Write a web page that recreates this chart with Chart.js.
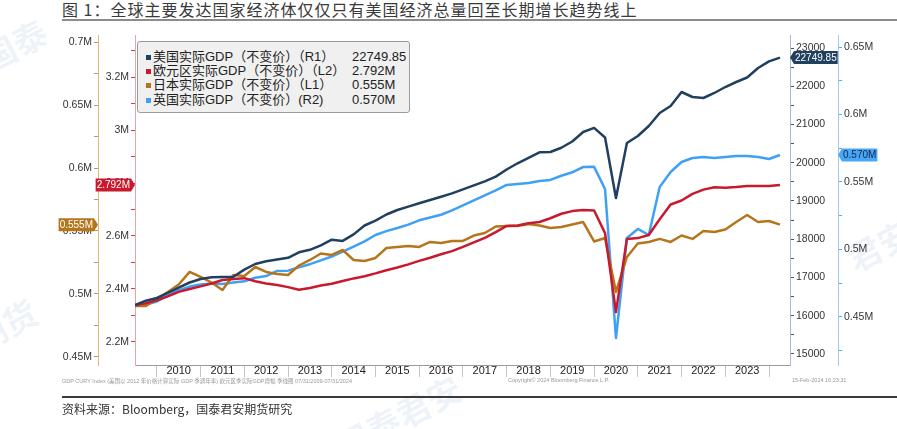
<!DOCTYPE html>
<html>
<head>
<meta charset="utf-8">
<script src="https://cdn.jsdelivr.net/npm/chart.js@4.4.1/dist/chart.umd.min.js"></script>
<style>
body { margin: 0; width: 897px; height: 429px; overflow: hidden; background: #fff; position: relative; font-family: "Noto Sans CJK SC", sans-serif; }
#title { position: absolute; left: 62px; top: -3px; font-size: 16px; letter-spacing: 1px; color: #3a3a3a; white-space: nowrap; }
#titleLine { position: absolute; left: 62px; right: 0; top: 19px; height: 2px; background: #8c8c8c; }
#c { position: absolute; left: 0; top: 0; }
#legend { position: absolute; left: 137px; top: 41px; width: 271px; height: 70px; background: #f0f0f0; border: 1px solid #9a9a9a; border-radius: 3px; font-family: "Liberation Sans", "Noto Sans CJK SC", sans-serif; font-size: 13px; color: #222; }
.row { position: absolute; left: 0; height: 14px; line-height: 14px; white-space: nowrap; }
.sw { position: absolute; left: 8px; top: 5px; width: 5px; height: 5px; }
.nm { position: absolute; left: 15px; top: 0; }
.vl { position: absolute; left: 214px; top: 0; }
.foot { position: absolute; top: 377px; font-size: 5.5px; color: #999; white-space: nowrap; font-family: "Liberation Sans", "Noto Sans CJK SC", sans-serif; }
#srcLine { position: absolute; left: 62px; right: 0; top: 396px; height: 1.5px; background: #3a3a3a; }
#source { position: absolute; left: 62px; top: 400px; font-size: 12px; color: #333; white-space: nowrap; }
.wm { position: absolute; color: rgba(120, 160, 210, 0.12); font-size: 34px; font-weight: bold; transform: rotate(-28deg); white-space: nowrap; }
</style>
</head>
<body>
<div class="wm" style="left:-20px;top:20px;">国泰</div>
<div class="wm" style="left:-30px;top:300px;">期货</div>
<div class="wm" style="left:330px;top:392px;">国泰君安</div>
<div class="wm" style="left:845px;top:220px;">君安</div>
<div id="title">图 1：全球主要发达国家经济体仅仅只有美国经济总量回至长期增长趋势线上</div>
<div id="titleLine"></div>
<canvas id="c" width="897" height="429"></canvas>
<div id="legend"></div>
<div class="foot" style="left:62px;">GDP CURY Index (美国以 2012 年价格计算实际 GDP 季调年率) 欧元区季实际GDP增幅 季线图 07/31/2009-07/31/2024</div>
<div class="foot" style="left:508px;">Copyright© 2024 Bloomberg Finance L.P.</div>
<div class="foot" style="left:792px;">15-Feb-2024 16:23:31</div>
<div id="srcLine"></div>
<div id="source">资料来源：Bloomberg，国泰君安期货研究</div>
<script>
// quarter-end observations
const quarters = [
  '2009Q2','2009Q3','2009Q4',
  '2010Q1','2010Q2','2010Q3','2010Q4',
  '2011Q1','2011Q2','2011Q3','2011Q4',
  '2012Q1','2012Q2','2012Q3','2012Q4',
  '2013Q1','2013Q2','2013Q3','2013Q4',
  '2014Q1','2014Q2','2014Q3','2014Q4',
  '2015Q1','2015Q2','2015Q3','2015Q4',
  '2016Q1','2016Q2','2016Q3','2016Q4',
  '2017Q1','2017Q2','2017Q3','2017Q4',
  '2018Q1','2018Q2','2018Q3','2018Q4',
  '2019Q1','2019Q2','2019Q3','2019Q4',
  '2020Q1','2020Q2','2020Q3','2020Q4',
  '2021Q1','2021Q2','2021Q3','2021Q4',
  '2022Q1','2022Q2','2022Q3','2022Q4',
  '2023Q1','2023Q2','2023Q3','2023Q4',
  '2024Q1'
];
const yearLabels = ['2010','2011','2012','2013','2014','2015','2016','2017','2018','2019','2020','2021','2022','2023'];

// US real GDP (R1), level
const usGdp = [16281,16393,16464,16595,16736,16869,16961,17008,17013,17020,
  17206,17353,17423,17471,17515,17659,17724,17842,17988,17957,
  18127,18359,18488,18647,18765,18854,18940,19026,19110,19199,
  19303,19408,19515,19638,19823,19986,20129,20273,20281,20393,
  20556,20804,20911,20660,19078,20516,20699,20961,21301,21484,
  21850,21719,21693,21824,21980,22111,22229,22477,22652,22749.85];
// Euro area real GDP (L2), millions
const euroGdp = [2.340,2.346,2.357,2.372,2.389,2.400,2.410,2.421,2.434,2.438,
  2.441,2.429,2.421,2.415,2.407,2.397,2.404,2.413,2.420,2.430,
  2.440,2.448,2.459,2.471,2.481,2.493,2.506,2.518,2.531,2.543,
  2.559,2.576,2.593,2.615,2.638,2.640,2.648,2.653,2.667,2.684,
  2.694,2.698,2.696,2.611,2.313,2.589,2.592,2.604,2.663,2.719,
  2.734,2.759,2.775,2.784,2.782,2.785,2.789,2.789,2.789,2.792];
// Japan real GDP (L1), millions
const japanGdp = [0.4905,0.4905,0.4960,0.5016,0.5075,0.5175,0.5135,0.5091,0.5032,0.5151,
  0.5143,0.5214,0.5175,0.5159,0.5151,0.5226,0.5270,0.5321,0.5310,0.5349,
  0.5270,0.5262,0.5286,0.5365,0.5373,0.5381,0.5373,0.5413,0.5405,0.5421,
  0.5421,0.5464,0.5484,0.5536,0.5540,0.5540,0.5556,0.5544,0.5524,0.5532,
  0.5552,0.5571,0.5417,0.5444,0.5016,0.5294,0.5401,0.5413,0.5437,0.5413,
  0.5464,0.5437,0.5500,0.5492,0.5512,0.5571,0.5627,0.5571,0.5579,0.5550];
// UK real GDP (R2), millions
const ukGdp = [0.4581,0.4591,0.4615,0.4658,0.4698,0.4725,0.4741,0.4748,0.4744,0.4755,
  0.4764,0.4790,0.4803,0.4841,0.4843,0.4868,0.4891,0.4919,0.4948,0.4984,
  0.5021,0.5060,0.5107,0.5136,0.5159,0.5184,0.5216,0.5237,0.5257,0.5290,
  0.5326,0.5363,0.5400,0.5437,0.5478,0.5485,0.5493,0.5507,0.5515,0.5546,
  0.5572,0.5611,0.5612,0.5448,0.4344,0.5085,0.5152,0.5107,0.5463,0.5574,
  0.5648,0.5678,0.5685,0.5678,0.5685,0.5693,0.5693,0.5685,0.5670,0.5700];

const names = ['美国实际GDP（不变价）（R1）', '欧元区实际GDP（不变价）（L2）', '日本实际GDP（不变价）（L1）', '英国实际GDP（不变价）(R2)'];
const colors = ['#21405f', '#c8192e', '#b5761b', '#3fa0f5'];

const toT = q => +q.slice(0, 4) + +q.slice(5) / 4;
const pts = arr => arr.map((v, i) => ({ x: toT(quarters[i]), y: v }));
const fmtM = v => parseFloat(v.toFixed(3)) + 'M';

const series = [
  { data: usGdp, axis: 'yUS', tag: v => v.toFixed(2), tagBg: '#21405f', tagFg: '#fff' },
  { data: euroGdp, axis: 'yEU', tag: v => v.toFixed(3) + 'M', tagBg: '#c8192e', tagFg: '#fff' },
  { data: japanGdp, axis: 'yJP', tag: v => v.toFixed(3) + 'M', tagBg: '#b5761b', tagFg: '#fff' },
  { data: ukGdp, axis: 'yUK', tag: v => v.toFixed(3) + 'M', tagBg: '#4aa6f7', tagFg: '#0d2a4a' }
];

// legend box
const legend = document.getElementById('legend');
series.forEach((s, i) => {
  const row = document.createElement('div');
  row.className = 'row';
  row.style.top = (8 + i * 14.2) + 'px';
  row.innerHTML = `<span class="sw" style="background:${colors[i]}"></span><span class="nm">${names[i]}</span><span class="vl">${s.tag(s.data[s.data.length - 1])}</span>`;
  legend.appendChild(row);
});

const tickFont = { family: '"Liberation Sans", sans-serif', size: 10.5 };

function yAxis(pos, weight, min, max, iLo, iHi, step, fmt, lineColor, tickColor, width) {
  return {
    type: 'linear', position: pos, weight: weight, min: min, max: max, bounds: 'data',
    afterBuildTicks: sc => {
      const t = [];
      for (let i = iLo; i <= iHi; i++) t.push({ value: +(i * step).toFixed(4), major: i % 2 === 0 });
      sc.ticks = t;
    },
    afterFit: sc => { sc.width = width; },
    ticks: {
      autoSkip: false, padding: 2, color: '#333', font: tickFont,
      callback: function (v, idx, ticks) { return ticks[idx].major ? fmt(v) : ''; }
    },
    grid: { drawOnChartArea: false, tickLength: 4, color: tickColor },
    border: { color: lineColor, width: 1 }
  };
}

const tagPlugin = {
  id: 'lastTags',
  afterDraw(chart) {
    const ctx = chart.ctx;
    ctx.save();
    ctx.font = '10px "Liberation Sans", sans-serif';
    ctx.textBaseline = 'middle';
    ctx.textAlign = 'center';
    series.forEach(s => {
      const sc = chart.scales[s.axis];
      const v = s.data[s.data.length - 1];
      const y = sc.getPixelForValue(v);
      const txt = s.tag(v);
      const w = ctx.measureText(txt).width + 2, h = 13, tip = 4;
      ctx.fillStyle = s.tagBg;
      ctx.beginPath();
      if (sc.position === 'left') {
        const x = sc.right;
        ctx.moveTo(x, y);
        ctx.lineTo(x - tip, y - h / 2);
        ctx.lineTo(x - tip - w, y - h / 2);
        ctx.lineTo(x - tip - w, y + h / 2);
        ctx.lineTo(x - tip, y + h / 2);
        ctx.closePath();
        ctx.fill();
        ctx.fillStyle = s.tagFg;
        ctx.fillText(txt, x - tip - w / 2, y + 0.5);
      } else {
        const x = sc.left;
        ctx.moveTo(x, y);
        ctx.lineTo(x + tip, y - h / 2);
        ctx.lineTo(x + tip + w, y - h / 2);
        ctx.lineTo(x + tip + w, y + h / 2);
        ctx.lineTo(x + tip, y + h / 2);
        ctx.closePath();
        ctx.fill();
        ctx.fillStyle = s.tagFg;
        ctx.fillText(txt, x + tip + w / 2, y + 0.5);
      }
    });
    ctx.restore();
  }
};

new Chart(document.getElementById('c'), {
  type: 'line',
  data: {
    datasets: series.map((s, i) => ({
      label: names[i],
      data: pts(s.data),
      yAxisID: s.axis,
      borderColor: colors[i],
      borderWidth: 2.5,
      pointRadius: 0,
      tension: 0,
      borderJoinStyle: 'round'
    }))
  },
  options: {
    responsive: false,
    animation: false,
    layout: { padding: { left: 0, right: 0, top: 35, bottom: 44 } },
    plugins: { legend: { display: false }, tooltip: { enabled: false } },
    scales: {
      x: {
        type: 'linear', min: 2009.5, max: 2024.48, bounds: 'data',
        afterBuildTicks: sc => {
          const t = [];
          for (let y = 2010; y <= 2024; y++) {
            t.push({ value: y });
            if (y < 2024) t.push({ value: y + 0.5 });
          }
          sc.ticks = t;
        },
        afterFit: sc => { sc.height = 20; },
        ticks: {
          autoSkip: false, maxRotation: 0, padding: -13, color: '#222',
          font: { family: '"Liberation Sans", sans-serif', size: 11 },
          callback: v => Number.isInteger(v) ? '' : yearLabels[Math.floor(v) - 2010]
        },
        grid: {
          drawOnChartArea: false, tickLength: 12,
          color: c => (c.tick && Number.isInteger(c.tick.value)) ? '#c4c4c4' : 'rgba(0,0,0,0)'
        },
        border: { color: '#9a9a9a', width: 1 }
      },
      yJP: yAxis('left', 2, 0.4436, 0.7056, 18, 28, 0.025, fmtM, '#e2b873', '#c8964a', 98),
      yEU: yAxis('left', 1, 2.1132, 3.3585, 22, 33, 0.1, fmtM, '#eaa3ab', '#d0404f', 37),
      yUS: yAxis('right', 1, 14712, 23340, 30, 46, 500, v => String(v), '#a9bccf', '#555', 48),
      yUK: yAxis('right', 2, 0.4144, 0.6589, 17, 26, 0.025, fmtM, '#9fcbf3', '#5aa9ee', 59)
    }
  },
  plugins: [tagPlugin]
});
</script>
</body>
</html>
